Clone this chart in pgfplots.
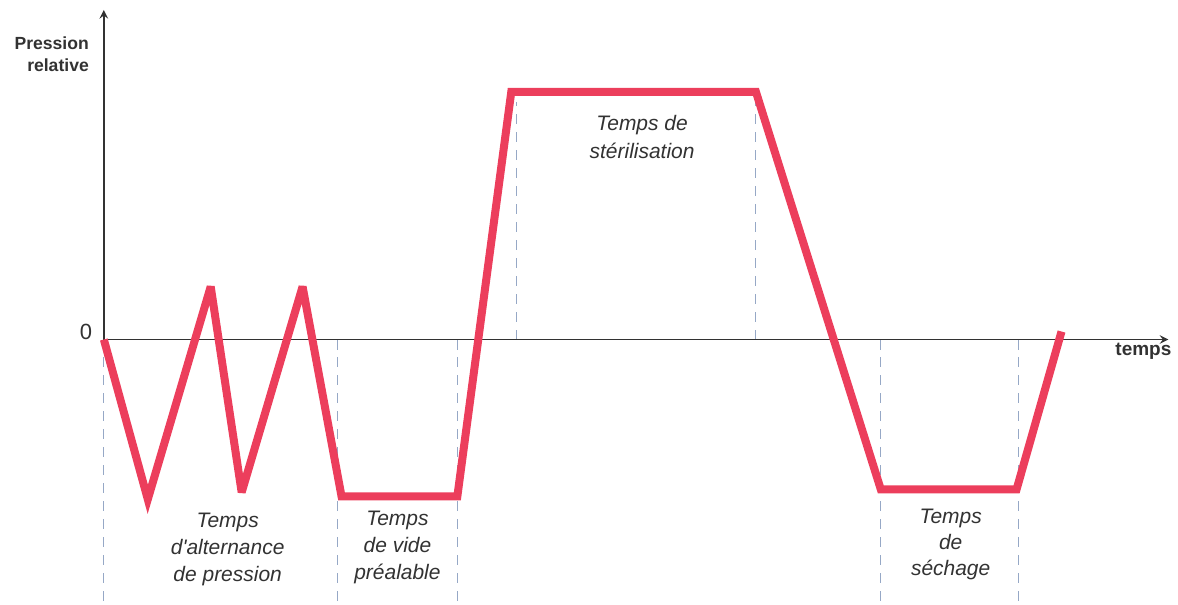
\documentclass[border=0pt]{standalone}
\usepackage{pgfplots}
\pgfplotsset{compat=1.18}
\usepackage{fontspec}
\setmainfont{Liberation Sans}
\definecolor{redline}{RGB}{236,62,92}
\definecolor{dashc}{RGB}{150,168,198}
\definecolor{axc}{RGB}{50,50,50}
\begin{document}
\begin{tikzpicture}
\begin{axis}[
  scale only axis, width=589pt, height=302.5pt,
  xmin=-104, xmax=1074, ymin=-265, ymax=340,
  axis lines=none, clip=false,
]
\path (axis cs:-104,-265) rectangle (axis cs:1074,340);
% dashed guides
\addplot[dashc, line width=0.5pt, dash pattern=on 5pt off 4pt] coordinates {(0,0) (0,-265)};
\addplot[dashc, line width=0.5pt, dash pattern=on 5pt off 4pt] coordinates {(234,0) (234,-265)};
\addplot[dashc, line width=0.5pt, dash pattern=on 5pt off 4pt] coordinates {(354,0) (354,-265)};
\addplot[dashc, line width=0.5pt, dash pattern=on 5pt off 4pt] coordinates {(413,0) (413,238)};
\addplot[dashc, line width=0.5pt, dash pattern=on 5pt off 4pt] coordinates {(653,0) (653,238)};
\addplot[dashc, line width=0.5pt, dash pattern=on 5pt off 4pt] coordinates {(778,0) (778,-265)};
\addplot[dashc, line width=0.5pt, dash pattern=on 5pt off 4pt] coordinates {(916,0) (916,-265)};
% axes
\addplot[axc, line width=0.9pt, -stealth] coordinates {(0,0) (1066,0)};
\addplot[axc, line width=0.9pt, -stealth] coordinates {(0,0) (0,330)};
% pressure curve
\addplot[redline, line width=4pt, line join=miter, miter limit=4] coordinates {
(0,0) (44,-160) (107,53) (138,-153) (199,53) (238,-157) (354,-157)
(408,248) (653,248) (778,-150) (914,-150) (959,8)};
% labels
\node[anchor=east, align=right, font=\bfseries\fontsize{8.8}{11}\selectfont, text=axc] at (axis cs:-8,286) {Pression\\relative};
\node[font=\fontsize{11}{12}\selectfont, text=axc] at (axis cs:-18,8) {0};
\node[font=\bfseries\fontsize{9.5}{11}\selectfont, text=axc] at (axis cs:1041,-12) {temps};
\node[align=center, font=\itshape\fontsize{10.5}{13.5}\selectfont, text=axc] at (axis cs:124,-210) {Temps\\d\textquotesingle alternance\\de pression};
\node[align=center, font=\itshape\fontsize{10.5}{13.5}\selectfont, text=axc] at (axis cs:294,-208) {Temps\\de vide\\préalable};
\node[align=center, font=\itshape\fontsize{10.5}{14}\selectfont, text=axc] at (axis cs:539,203) {Temps de\\stérilisation};
\node[align=center, font=\itshape\fontsize{10.5}{13}\selectfont, text=axc] at (axis cs:848,-205) {Temps\\de\\séchage};
\end{axis}
\end{tikzpicture}
\end{document}
